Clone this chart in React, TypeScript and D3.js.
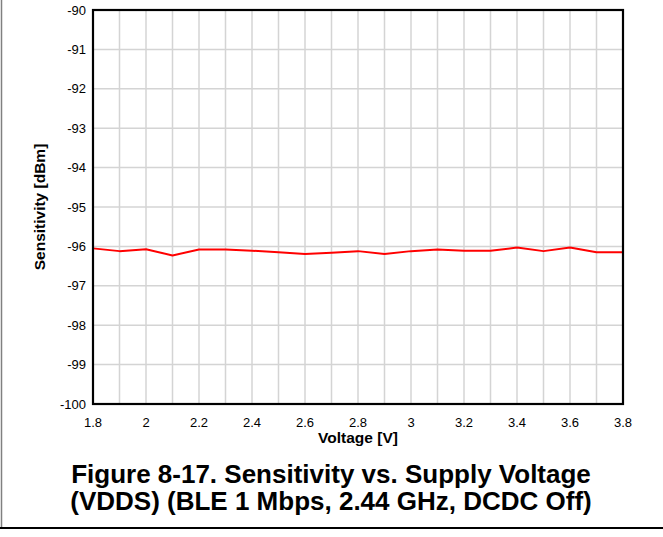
import React from "react";
import * as d3 from "d3";

const voltages = [1.8, 1.9, 2.0, 2.1, 2.2, 2.3, 2.4, 2.5, 2.6, 2.7, 2.8, 2.9, 3.0, 3.1, 3.2, 3.3, 3.4, 3.5, 3.6, 3.7, 3.8];
const sensitivity = [-96.05, -96.12, -96.07, -96.23, -96.08, -96.08, -96.11, -96.15, -96.19, -96.16, -96.12, -96.19, -96.12, -96.08, -96.11, -96.11, -96.03, -96.12, -96.03, -96.15, -96.15];
const xTicks = [1.8, 2, 2.2, 2.4, 2.6, 2.8, 3, 3.2, 3.4, 3.6, 3.8];
const yTicks = [-90, -91, -92, -93, -94, -95, -96, -97, -98, -99, -100];
const xLabel = "Voltage [V]";
const yLabel = "Sensitivity [dBm]";
const titleLines = ["Figure 8-17. Sensitivity vs. Supply Voltage", "(VDDS) (BLE 1 Mbps, 2.44 GHz, DCDC Off)"];

const W = 663;
const H = 537;
const L = 93, R = 623, T = 10, B = 404;

export default function App() {
  const x = d3.scaleLinear().domain([1.8, 3.8]).range([L, R]);
  const y = d3.scaleLinear().domain([-100, -90]).range([B, T]);
  const xGrid = d3.range(19).map((i) => 1.9 + i * 0.1);
  const line = d3
    .line<number>()
    .x((_, i) => x(voltages[i]))
    .y((d) => y(d));
  const font = "'Liberation Sans', Arial, sans-serif";
  return (
    <svg
      width={W}
      height={H}
      style={{ position: "absolute", left: 0, top: 0, background: "#fff" }}
      fontFamily={font}
    >
      <rect x={0} y={0} width={W} height={H} fill="#fff" />
      {xGrid.map((v) => (
        <line key={"gx" + v} x1={x(v)} x2={x(v)} y1={T} y2={B} stroke="#d4d4d4" strokeWidth={1.5} />
      ))}
      {yTicks.slice(1, -1).map((v) => (
        <line key={"gy" + v} x1={L} x2={R} y1={y(v)} y2={y(v)} stroke="#d4d4d4" strokeWidth={1.5} />
      ))}
      <path d={line(sensitivity) || ""} fill="none" stroke="#ff0000" strokeWidth={2} strokeLinejoin="round" />
      <rect x={L} y={T} width={R - L} height={B - T} fill="none" stroke="#000" strokeWidth={2.2} />
      {yTicks.map((v) => (
        <text key={"ty" + v} x={L - 7} y={y(v) + 4.5} textAnchor="end" fontSize={13} fill="#000">
          {v}
        </text>
      ))}
      {xTicks.map((v) => (
        <text key={"tx" + v} x={x(v)} y={426.5} textAnchor="middle" fontSize={13} fill="#000">
          {v}
        </text>
      ))}
      <text x={(L + R) / 2} y={443} textAnchor="middle" fontSize={15.5} fontWeight="bold" fill="#000">
        {xLabel}
      </text>
      <text
        transform={`translate(45,${(T + B) / 2}) rotate(-90)`}
        textAnchor="middle"
        fontSize={15.5}
        fontWeight="bold"
        fill="#000"
      >
        {yLabel}
      </text>
      {titleLines.map((t, i) => (
        <text key={"title" + i} x={331} y={482.5 + i * 27.5} textAnchor="middle" fontSize={26} fontWeight="bold" fill="#000">
          {t}
        </text>
      ))}
      <line x1={1.5} x2={1.5} y1={0} y2={528} stroke="#808080" strokeWidth={1.5} />
      <line x1={0} x2={W} y1={528} y2={528} stroke="#000" strokeWidth={2} />
    </svg>
  );
}
